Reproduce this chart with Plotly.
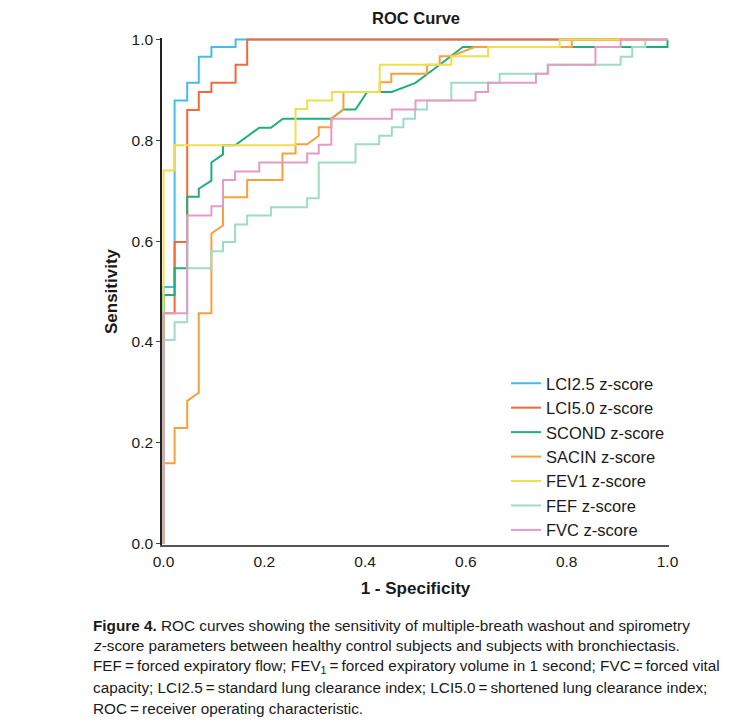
import plotly.graph_objects as go

# ---- data: ROC curve vertices (1 - specificity, sensitivity) ----
series_names = ["LCI2.5 z-score", "LCI5.0 z-score", "SCOND z-score", "SACIN z-score",
                "FEV1 z-score", "FEF z-score", "FVC z-score"]
series_colors = ["#45BDEB", "#F2693A", "#22AE7A", "#F7A03C", "#F0DE4A", "#9EDCC6", "#E69AC6"]

lci25_fpr = [0, 0, 0.022, 0.022, 0.047, 0.047, 0.070, 0.070, 0.095, 0.095, 0.143, 0.143, 1.0]
lci25_tpr = [0, 0.509, 0.509, 0.879, 0.879, 0.914, 0.914, 0.966, 0.966, 0.985, 0.985, 1.0, 1.0]

lci50_fpr = [0, 0, 0.022, 0.022, 0.047, 0.047, 0.070, 0.070, 0.095, 0.095, 0.143, 0.143, 0.166, 0.166, 1.0]
lci50_tpr = [0, 0.457, 0.457, 0.598, 0.598, 0.860, 0.860, 0.896, 0.896, 0.914, 0.914, 0.950, 0.950, 1.0, 1.0]

scond_fpr = [0, 0, 0.022, 0.022, 0.047, 0.047, 0.070, 0.070, 0.095, 0.095,
             0.118, 0.118, 0.142, 0.190, 0.213, 0.237, 0.333, 0.357, 0.381, 0.404,
             0.453, 0.500, 0.548, 0.594, 1.0, 1.0]
scond_tpr = [0, 0.493, 0.493, 0.546, 0.546, 0.688, 0.688, 0.704, 0.720, 0.756,
             0.772, 0.790, 0.790, 0.825, 0.825, 0.843, 0.843, 0.861, 0.861, 0.896,
             0.896, 0.914, 0.950, 0.985, 0.985, 1.0]

sacin_fpr = [0, 0, 0.022, 0.022, 0.047, 0.047, 0.070, 0.070, 0.095, 0.095,
             0.118, 0.118, 0.166, 0.166, 0.236, 0.236, 0.262, 0.262, 0.285, 0.308,
             0.308, 0.333, 0.333, 0.357, 0.357, 0.429, 0.429, 0.452, 0.452, 0.523,
             0.523, 0.548, 0.548, 0.571, 0.617, 0.810, 0.810, 1.0]
sacin_tpr = [0, 0.159, 0.159, 0.229, 0.229, 0.283, 0.299, 0.457, 0.457, 0.615,
             0.631, 0.687, 0.687, 0.721, 0.721, 0.774, 0.774, 0.792, 0.792, 0.809,
             0.826, 0.826, 0.843, 0.861, 0.896, 0.896, 0.915, 0.915, 0.932, 0.932,
             0.950, 0.950, 0.967, 0.967, 0.985, 0.985, 1.0, 1.0]

fev1_fpr = [0, 0, 0.022, 0.022, 0.262, 0.262, 0.285, 0.285, 0.334, 0.334,
            0.429, 0.429, 0.571, 0.571, 0.644, 0.644, 0.786, 0.786, 1.0]
fev1_tpr = [0, 0.740, 0.740, 0.790, 0.790, 0.862, 0.862, 0.879, 0.879, 0.896,
            0.896, 0.950, 0.950, 0.967, 0.967, 0.985, 0.985, 1.0, 1.0]

fef_fpr = [0, 0, 0.022, 0.022, 0.047, 0.047, 0.095, 0.095, 0.118, 0.118,
           0.142, 0.142, 0.166, 0.166, 0.213, 0.213, 0.285, 0.285, 0.308, 0.308,
           0.381, 0.381, 0.428, 0.428, 0.453, 0.453, 0.476, 0.476, 0.499, 0.499,
           0.523, 0.523, 0.571, 0.571, 0.667, 0.667, 0.762, 0.762, 0.907, 0.907,
           0.930, 0.930, 0.956, 0.956, 1.0]
fef_tpr = [0, 0.404, 0.404, 0.439, 0.439, 0.546, 0.546, 0.580, 0.580, 0.598,
           0.598, 0.633, 0.633, 0.651, 0.651, 0.667, 0.667, 0.685, 0.685, 0.756,
           0.756, 0.792, 0.792, 0.809, 0.809, 0.826, 0.826, 0.843, 0.843, 0.861,
           0.861, 0.879, 0.879, 0.914, 0.914, 0.932, 0.932, 0.950, 0.950, 0.966,
           0.966, 0.985, 0.985, 1.0, 1.0]

fvc_fpr = [0, 0, 0.047, 0.047, 0.095, 0.095, 0.118, 0.118, 0.142, 0.142,
           0.190, 0.190, 0.285, 0.285, 0.308, 0.308, 0.333, 0.333, 0.453, 0.453,
           0.500, 0.500, 0.619, 0.619, 0.644, 0.644, 0.739, 0.739, 0.763, 0.763,
           0.857, 0.857, 0.907, 0.907, 1.0]
fvc_tpr = [0, 0.457, 0.457, 0.651, 0.651, 0.669, 0.669, 0.721, 0.721, 0.738,
           0.738, 0.756, 0.756, 0.774, 0.774, 0.791, 0.791, 0.843, 0.843, 0.861,
           0.861, 0.879, 0.879, 0.896, 0.896, 0.914, 0.914, 0.932, 0.932, 0.950,
           0.950, 0.985, 0.985, 1.0, 1.0]

tick_vals = [0.0, 0.2, 0.4, 0.6, 0.8, 1.0]
tick_text = ["0.0", "0.2", "0.4", "0.6", "0.8", "1.0"]

caption_lines = [
    "<b>Figure 4.</b> ROC curves showing the sensitivity of multiple-breath washout and spirometry",
    "<i>z</i>-score parameters between healthy control subjects and subjects with bronchiectasis.",
    "FEF\u2009=\u2009forced expiratory flow; FEV<sub>1</sub>\u2009=\u2009forced expiratory volume in 1 second; FVC\u2009=\u2009forced vital",
    "capacity; LCI2.5\u2009=\u2009standard lung clearance index; LCI5.0\u2009=\u2009shortened lung clearance index;",
    "ROC\u2009=\u2009receiver operating characteristic.",
]

all_fpr = [lci25_fpr, lci50_fpr, scond_fpr, sacin_fpr, fev1_fpr, fef_fpr, fvc_fpr]
all_tpr = [lci25_tpr, lci50_tpr, scond_tpr, sacin_tpr, fev1_tpr, fef_tpr, fvc_tpr]

FONT = "Liberation Sans, Arial, Helvetica, sans-serif"

fig = go.Figure()
for name, color, xs, ys in zip(series_names, series_colors, all_fpr, all_tpr):
    fig.add_trace(go.Scatter(x=xs, y=ys, mode="lines", name=name,
                             line=dict(color=color, width=2)))

# page body adds an 8px offset; positions below are in figure coordinates
OFF = 8
W, H = 739, 727
L, R, T, B = 162 - OFF, 669 - OFF, 38 - OFF, 545 - OFF


def px_x(px):
    return (px - OFF - L) / (R - L)


def px_y(py):
    return (B - (py - OFF)) / (B - T)


fig.update_layout(
    width=W, height=H,
    margin=dict(l=L, r=W - R, t=T, b=H - B),
    paper_bgcolor="white", plot_bgcolor="white",
    font=dict(family=FONT, size=15, color="#1a1a1a"),
    title=dict(text="<b>ROC Curve</b>", x=px_x(416), xanchor="center", xref="paper",
               y=1 - (18 - OFF) / H, yanchor="middle", font=dict(size=16.5, color="#1a1a1a")),
    showlegend=True,
    legend=dict(x=px_x(506), y=px_y(366), xanchor="left", yanchor="top",
                bgcolor="rgba(0,0,0,0)", font=dict(size=16.5, color="#1a1a1a"),
                tracegroupgap=0),
    xaxis=dict(range=[-0.003, 1.003], tickvals=tick_vals, ticktext=tick_text,
               showgrid=False, zeroline=False, showline=True, linecolor="#555555",
               linewidth=1.5, ticks="", ticklabelstandoff=2, tickfont=dict(size=15.5),
               title=dict(text="<b>1 - Specificity</b>", font=dict(size=17), standoff=13)),
    yaxis=dict(range=[-0.003, 1.003], tickvals=tick_vals, ticktext=tick_text,
               showgrid=False, zeroline=False, showline=True, linecolor="#222222",
               linewidth=1.5, ticks="outside", ticklen=4, tickcolor="#444444",
               tickfont=dict(size=15.5),
               title=dict(text="<b>Sensitivity</b>", font=dict(size=17), standoff=10)),
)

cap_y = [625, 645, 666, 687, 708]
for txt, py in zip(caption_lines, cap_y):
    fig.add_annotation(text=txt, xref="paper", yref="paper",
                       x=px_x(91), y=px_y(py),
                       xanchor="left", yanchor="middle", showarrow=False,
                       font=dict(size=15.3, family=FONT, color="#1a1a1a"))

fig.write_html("out.html")
